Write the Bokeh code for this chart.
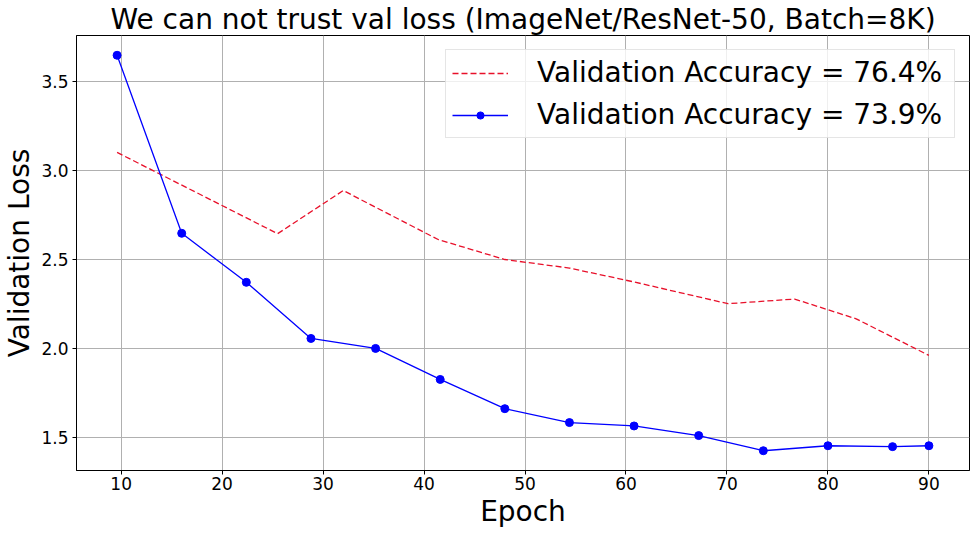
from bokeh.plotting import figure
from bokeh.models import Range1d, Legend, LegendItem, FixedTicker, PrintfTickFormatter
from bokeh.embed import file_html
from bokeh.resources import INLINE

# ---- data ----
red_epochs = [9.6, 25.5, 32.0, 41.4, 48.0, 54.4, 60.8, 70.1, 76.7, 82.8, 90.0]
red_loss = [3.100, 2.644, 2.886, 2.611, 2.499, 2.451, 2.373, 2.251, 2.277, 2.166, 1.961]

blue_epochs = [9.6, 16.0, 22.4, 28.8, 35.2, 41.6, 48.0, 54.4, 60.8, 67.2, 73.6, 80.0, 86.4, 90.0]
blue_loss = [3.645, 2.646, 2.371, 2.056, 2.000, 1.826, 1.662, 1.584, 1.565, 1.511,
             1.426, 1.454, 1.449, 1.454]

x_ticks = [10, 20, 30, 40, 50, 60, 70, 80, 90]
y_ticks = [1.5, 2.0, 2.5, 3.0, 3.5]

title_text = "We can not trust val loss (ImageNet/ResNet-50, Batch=8K)"
x_label = "Epoch"
y_label = "Validation Loss"
red_label = "Validation Accuracy = 76.4%"
blue_label = "Validation Accuracy = 73.9%"

FONT = "DejaVu Sans"

# matplotlib-like 5% margins
allx = red_epochs + blue_epochs
ally = red_loss + blue_loss
xpad = (max(allx) - min(allx)) * 0.05
ypad = (max(ally) - min(ally)) * 0.05

p = figure(
    frame_width=893, frame_height=435,
    min_border_left=75, min_border_right=10, min_border_top=35, min_border_bottom=64,
    x_range=Range1d(min(allx) - xpad, max(allx) + xpad),
    y_range=Range1d(min(ally) - ypad, max(ally) + ypad),
    output_backend="svg", toolbar_location=None,
    background_fill_color="white", border_fill_color="white",
    title=title_text,
)

p.title.text_font = FONT
p.title.text_font_size = "28px"
p.title.text_font_style = "normal"
p.title.text_color = "black"
p.title.align = "center"
p.title.standoff = 0
p.title.offset = 0

p.outline_line_color = "black"
p.outline_line_width = 1

for ax in (p.xaxis[0], p.yaxis[0]):
    ax.major_label_text_font = FONT
    ax.major_label_text_font_size = "17px"
    ax.major_label_text_color = "black"
    ax.major_tick_out = 4
    ax.major_tick_in = 0
    ax.minor_tick_out = 0
    ax.minor_tick_in = 0
    ax.axis_line_color = "black"
    ax.major_tick_line_color = "black"
    ax.axis_label_text_font = FONT
    ax.axis_label_text_font_size = "28px"
    ax.axis_label_text_font_style = "normal"
    ax.axis_label_text_color = "black"

p.xaxis[0].axis_label = x_label
p.yaxis[0].axis_label = y_label
p.xaxis[0].ticker = FixedTicker(ticks=x_ticks)
p.yaxis[0].ticker = FixedTicker(ticks=y_ticks)
p.xaxis[0].major_label_standoff = 2
p.yaxis[0].major_label_standoff = 4
p.xaxis[0].axis_label_standoff = 2
p.yaxis[0].axis_label_standoff = 2
p.yaxis[0].formatter = PrintfTickFormatter(format="%.1f")

p.grid.grid_line_color = "#b0b0b0"
p.grid.grid_line_width = 1
p.xgrid.ticker = FixedTicker(ticks=x_ticks)
p.ygrid.ticker = FixedTicker(ticks=y_ticks)

r_red = p.line(red_epochs, red_loss, line_color="#e8102a", line_width=1.3, line_dash="6 3")
r_blue = p.line(blue_epochs, blue_loss, line_color="blue", line_width=1.3)
r_blue_pts = p.scatter(blue_epochs, blue_loss, size=8, fill_color="blue", line_color="blue")

legend = Legend(
    items=[LegendItem(label=red_label, renderers=[r_red]),
           LegendItem(label=blue_label, renderers=[r_blue, r_blue_pts])],
    location="top_right",
    margin=14, padding=6, spacing=9,
    glyph_width=56, glyph_height=18, label_standoff=29, label_width=411,
    label_text_font=FONT, label_text_font_size="28px", label_text_color="black",
    border_line_color="#cccccc", border_line_width=1,
    background_fill_color="white", background_fill_alpha=0.8,
)
p.add_layout(legend, "center")

open("out.html", "w").write(file_html(p, INLINE))
